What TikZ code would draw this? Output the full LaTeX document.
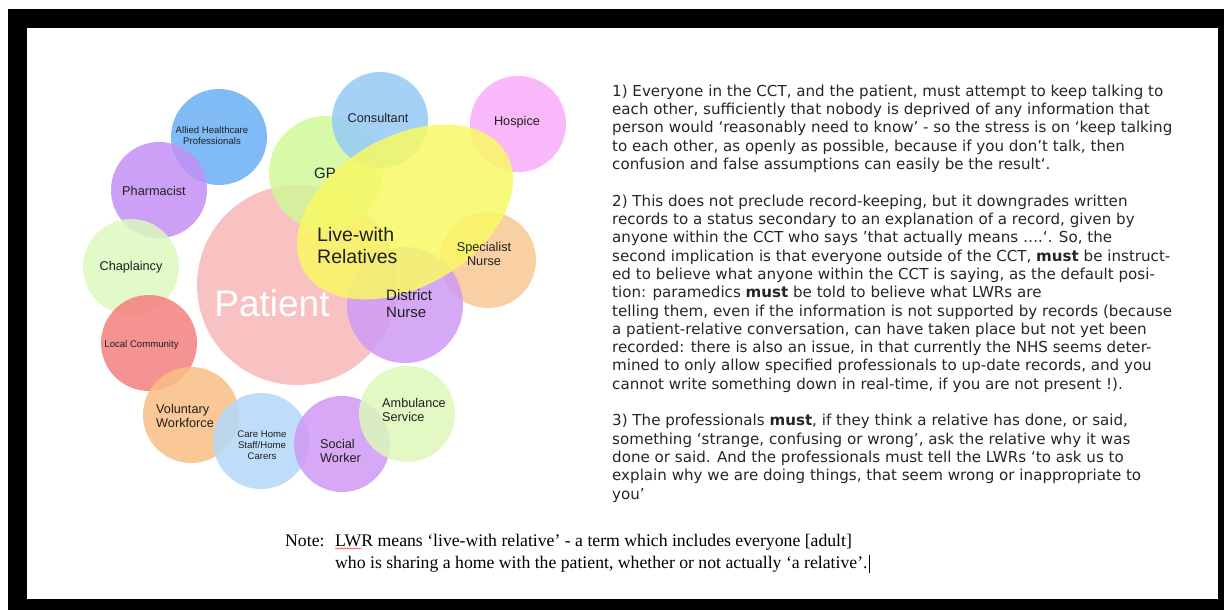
\documentclass[tikz,border=0pt]{standalone}
\usepackage{fontspec}
\setmainfont{Liberation Serif}
\newfontfamily\labelfont{Liberation Sans}
\newfontfamily\bodyfont{DejaVu Sans}
\usetikzlibrary{decorations.pathmorphing}

\definecolor{alliedblue}{RGB}{106,176,245}
\definecolor{consultblue}{RGB}{151,202,246}
\definecolor{hospicepink}{RGB}{249,172,249}
\definecolor{gpgreen}{RGB}{209,248,153}
\definecolor{pharmpurple}{RGB}{196,144,245}
\definecolor{chapgreen}{RGB}{221,248,191}
\definecolor{lwryellow}{RGB}{249,249,100}
\definecolor{patientpink}{RGB}{248,184,184}
\definecolor{distpurple}{RGB}{207,155,245}
\definecolor{specorange}{RGB}{248,200,149}
\definecolor{localred}{RGB}{244,127,127}
\definecolor{volorange}{RGB}{248,191,132}
\definecolor{careblue}{RGB}{179,216,248}
\definecolor{socpurple}{RGB}{207,153,245}
\definecolor{ambgreen}{RGB}{221,248,186}

\begin{document}
\begin{tikzpicture}[x=1pt,y=-1pt,
  bubble/.style={fill opacity=0.85},
  lbl/.style={font=\labelfont\fontsize{12.7}{14}\selectfont,text=black!88,inner sep=0pt,align=center},
  small/.style={font=\labelfont\fontsize{9.6}{11}\selectfont}]
  %page and frame
  \fill[white] (0,0) rectangle (1224,610);
  \fill[black] (8,9) rectangle (1224,610);
  \fill[white] (27,28) rectangle (1218,599);
  \useasboundingbox (0,0) rectangle (1224,610);

  %outer ring
  \fill[bubble,alliedblue] (219,137) circle (48pt);
  \fill[bubble,pharmpurple] (159,190) circle (48pt);
  \fill[bubble,chapgreen] (131,267) circle (48pt);
  \fill[bubble,localred] (149,343) circle (48pt);
  \fill[bubble,volorange] (191,415) circle (48pt);
  \fill[bubble,careblue] (261,441) circle (48pt);
  \fill[bubble,socpurple] (342,444) circle (48pt);
  \fill[bubble,ambgreen] (407,414) circle (48pt);
  \fill[bubble,hospicepink] (518,124) circle (48pt);

  %patient and the ones around
  \fill[bubble,patientpink] (297,285) circle (100pt);
  \fill[bubble,gpgreen] (326,173) circle (57pt);
  \fill[bubble,consultblue] (380,120) circle (48pt);
  \fill[bubble,specorange] (488,260) circle (48pt);
  \fill[bubble,distpurple] (405,305) circle (58pt);
  \fill[bubble,lwryellow,rotate around={30:(405,212)}] (405,212) ellipse (117pt and 75pt);

  %labels
  \node[lbl,small] (allied) at (212,135.5) {Allied Healthcare\\Professionals};
  \node[lbl] (consultant) at (378,118) {Consultant};
  \node[lbl] (hospice) at (517,122) {Hospice};
  \node[lbl,font=\labelfont\fontsize{15}{17}\selectfont] (gp) at (325,173) {GP};
  \node[lbl] (pharmacist) at (154,191) {Pharmacist};
  \node[lbl] (chaplaincy) at (131,267) {Chaplaincy};
  \node[lbl,align=left,anchor=west,font=\labelfont\fontsize{19.5}{22}\selectfont] (lwr) at (317,246) {Live-with\\Relatives};
  \node[lbl] (specialist) at (484,254) {Specialist\\Nurse};
  \node[lbl,align=left,anchor=west,font=\labelfont\fontsize{15}{17}\selectfont] (district) at (386,303.5) {District\\Nurse};
  \node[lbl,text=white,font=\labelfont\fontsize{37}{40}\selectfont] (patient) at (272,303) {Patient};
  \node[lbl,small] (local) at (141.5,345) {Local Community};
  \node[lbl,align=left,anchor=west] (voluntary) at (156,416) {Voluntary\\Workforce};
  \node[lbl,small] (carehome) at (262,445) {Care Home\\Staff/Home\\Carers};
  \node[lbl,align=left,anchor=west] (social) at (320,451) {Social\\Worker};
  \node[lbl,align=left,anchor=west] (ambulance) at (382,410) {Ambulance\\Service};

  %the three points
  \node[anchor=north west,inner sep=0pt,align=left,text=black!85,
    font=\bodyfont\fontsize{15.1}{18.32}\selectfont] (points) at (612,84.5) {%
1) Everyone in the CCT, and the patient, must attempt to keep talking to\\
each other, sufficiently that nobody is deprived of any information that\\
person would ‘reasonably need to know’ - so the stress is on ‘keep talking\\
to each other, as openly as possible, because if you don’t talk, then\\
confusion and false assumptions can easily be the result‘.\\[18.32pt]
2) This does not preclude record-keeping, but it downgrades written\\
records to a status secondary to an explanation of a record, given by\\
anyone within the CCT who says ’that actually means ….‘. So, the\\
second implication is that everyone outside of the CCT, \textbf{must} be instruct-\\
ed to believe what anyone within the CCT is saying, as the default posi-\\
tion: paramedics \textbf{must} be told to believe what LWRs are\\
telling them, even if the information is not supported by records (because\\
a patient-relative conversation, can have taken place but not yet been\\
recorded: there is also an issue, in that currently the NHS seems deter-\\
mined to only allow specified professionals to up-date records, and you\\
cannot write something down in real-time, if you are not present !).\\[18.32pt]
3) The professionals \textbf{must}, if they think a relative has done, or said,\\
something ‘strange, confusing or wrong’, ask the relative why it was\\
done or said. And the professionals must tell the LWRs ‘to ask us to\\
explain why we are doing things, that seem wrong or inappropriate to\\
you’};

  %note at the bottom
  \node[anchor=base west,inner sep=0pt,font=\fontsize{17.7}{22}\selectfont] (note) at (285,546) {Note:};
  \node[anchor=base west,inner sep=0pt,font=\fontsize{17.7}{22}\selectfont] (lwrnote) at (335,546) {LWR means ‘live-with relative’ - a term which includes everyone [adult]};
  \node[anchor=base west,inner sep=0pt,font=\fontsize{17.7}{22}\selectfont] (lwrnote2) at (335,568) {who is sharing a home with the patient, whether or not actually ‘a relative’.};
  \draw[red,decorate,decoration={snake,amplitude=0.7pt,segment length=3pt}] (lwrnote.south west) ++(0,-1.5) -- ++(27,0);
  \draw[black,thin] (lwrnote2.east) ++(1.5,-9) -- ++(0,18);
\end{tikzpicture}
\end{document}
